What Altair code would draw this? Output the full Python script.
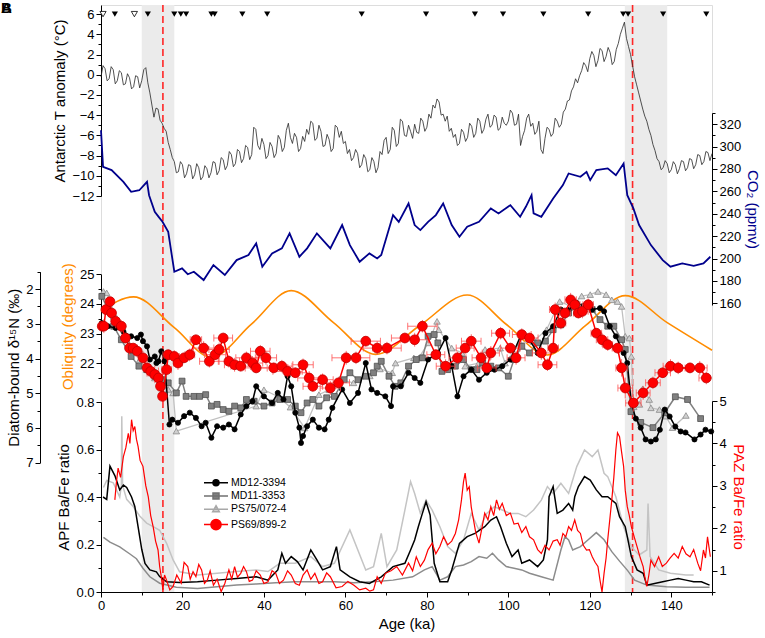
import altair as alt
import pandas as pd

FONT = "Liberation Sans"

# ---------------- data ----------------
# Antarctic temperature anomaly (deg C), 0.5-ka resolution, 0..150 ka
T_AGE = [i * 0.5 for i in range(301)]
T_VAL = [-0.2, 0.9, 0.6, -0.6, -0.4, 0.8, 0.5, -0.9, -0.6, 0.4,
         0.2, -1.0, -0.9, 0.1, -0.3, -1.4, -1.2, -0.1, -0.2, -1.3,
         -0.6, 0.5, 0.7, -0.8, -1.8, -3.0, -4.2, -3.3, -3.4, -4.5,
         -4.8, -5.3, -5.6, -6.7, -7.4, -8.2, -8.6, -9.7, -9.6, -8.6,
         -8.9, -10.2, -9.8, -8.9, -9.0, -10.3, -9.9, -8.8, -9.2, -10.4,
         -10.1, -9.0, -9.3, -10.2, -9.7, -8.6, -8.7, -9.9, -9.5, -8.2,
         -8.4, -9.4, -9.0, -7.6, -7.9, -9.1, -8.8, -7.4, -7.6, -8.7,
         -8.3, -7.0, -7.2, -8.4, -7.9, -5.2, -5.4, -7.0, -7.4, -6.3,
         -6.9, -8.3, -8.0, -6.7, -7.1, -8.2, -7.8, -6.0, -6.4, -7.6,
         -7.2, -5.5, -4.8, -6.2, -6.8, -5.8, -6.2, -7.6, -7.3, -6.1,
         -6.6, -5.4, -5.9, -4.6, -4.8, -6.5, -6.3, -5.0, -5.6, -7.1,
         -7.0, -5.9, -6.4, -7.6, -7.3, -5.0, -5.2, -6.2, -5.6, -6.8,
         -6.6, -7.8, -7.4, -8.5, -8.2, -7.4, -7.8, -9.2, -8.9, -7.9,
         -8.3, -9.6, -9.4, -8.2, -8.6, -9.7, -9.2, -7.6, -7.9, -6.5,
         -6.2, -7.8, -7.4, -5.2, -5.5, -7.1, -6.8, -4.4, -4.6, -6.0,
         -6.1, -5.0, -5.6, -6.3, -4.9, -5.7, -5.8, -4.3, -4.6, -5.6,
         -5.2, -3.9, -4.3, -3.0, -3.3, -2.4, -2.7, -4.0, -3.9, -4.6,
         -4.1, -5.6, -5.3, -6.2, -5.9, -7.0, -6.8, -5.4, -5.7, -6.6,
         -6.2, -4.8, -5.1, -6.2, -5.8, -4.3, -4.6, -5.8, -5.4, -4.4,
         -3.9, -5.2, -5.0, -4.0, -4.2, -5.5, -5.3, -4.2, -4.8, -5.0,
         -4.6, -3.5, -3.8, -5.0, -4.9, -3.9, -7.0, -6.1, -5.5, -4.3,
         -3.9, -5.1, -4.8, -5.9, -5.6, -4.6, -7.4, -7.8, -6.3, -5.2,
         -5.4, -6.1, -5.8, -4.3, -4.6, -5.2, -4.9, -3.7, -3.4, -2.6,
         -2.5, -1.6, -1.2, -0.4, -0.8, -0.1, 0.4, 1.2, 0.9, 0.3,
         1.6, 2.3, 1.9, 0.8, 1.4, 2.6, 2.4, 1.3, 1.8, 2.7,
         2.2, 1.0, 1.3, 2.5, 3.1, 4.0, 4.6, 5.2, 3.6, 2.8,
         2.0, 0.9, -0.2, -1.0, -1.8, -2.6, -3.4, -4.1, -4.6, -5.4,
         -6.0, -6.9, -7.5, -8.3, -8.6, -9.4, -9.2, -8.5, -8.8, -9.7,
         -9.4, -8.6, -8.9, -9.8, -9.3, -8.5, -8.6, -9.5, -9.2, -8.3,
         -8.4, -9.3, -8.9, -7.9, -8.0, -8.9, -8.6, -7.6, -7.7, -8.5,
         -7.8]

# CO2 (ppmv)
CO2_AGE = [0, 0.5, 2.6, 5.5, 7.4, 9.4, 11.3, 11.8, 13.2, 14.2, 15.1, 16.5, 18.0, 19.9, 21.3, 22.8,
           25.2, 27.6, 30.4, 33.3, 36.2, 38.1, 39.6, 42.0, 44.4, 46.3, 48.7, 50.6, 53.0, 56.3,
           59.2, 61.1, 63.5, 65.9, 67.8, 68.8, 71.7, 73.1, 75.5, 77.0, 78.4, 80.3, 82.2, 84.0,
           86.1, 88.0, 89.9, 92.8, 95.7, 97.6, 100.5, 102.9, 104.3, 105.7, 106.2, 108.1, 111.0,
           113.4, 114.8, 117.7, 119.2, 120.1, 121.6, 124.4, 126.4, 128.3, 129.2, 130.7, 132.1,
           135.0, 137.9, 139.8, 142.7, 145.5, 147.9, 149.6]
CO2_VAL = [314.6, 281.9, 279.0, 268.5, 259.6, 261.0, 268.5, 256.6, 241.7, 237.0, 232.8, 223.9, 188.2, 191.2, 186.0, 188.2,
           180.8, 194.2, 185.3, 198.6, 203.1, 213.5, 192.7, 204.6, 209.1, 222.5, 201.6, 209.1, 222.5, 209.1,
           229.9, 212.0, 197.1, 204.6, 200.1, 203.1, 238.8, 232.8, 249.2, 229.9, 225.4, 232.8, 238.8, 249.2,
           229.9, 219.4, 228.4, 232.8, 244.8, 240.3, 247.7, 237.3, 246.2, 256.6, 240.3, 237.3, 253.7,
           265.6, 276.0, 273.0, 277.4, 270.0, 279.0, 280.5, 274.5, 284.9, 256.6, 244.8, 229.9,
           212.0, 198.6, 192.7, 195.6, 193.5, 195.6, 201.6]

# Obliquity (degrees)
OBL_AGE = [0, 8, 18, 27.1, 37, 46.7, 57, 67.4, 78.5, 89.9, 99.7, 109.5, 119, 128.7, 139, 150]
OBL_VAL = [23.75, 24.24, 23.2, 22.2, 23.33, 24.45, 23.38, 22.3, 23.3, 24.3, 23.29, 22.28, 23.28, 24.28, 23.37, 22.44]

# Event triangles (top row)
TRI_FILLED = [3.4, 11.5, 18.0, 19.6, 20.9, 27.1, 27.9, 34.7, 40.8, 64.0, 79.8, 91.8, 98.7,
              108.6, 119.6, 128.2, 129.4, 138.0, 148.6]
TRI_OPEN = [0.5, 8.2]

# Grey bands and terminations
BAND_START = [10.0, 128.6]
BAND_END = [18.0, 139.0]
TERM_AGE = [15.2, 130.5]

# Diatom-bound d15N (permil)
CORES = ["MD12-3394", "MD11-3353", "PS75/072-4", "PS69/899-2"]

MD12_D_AGE = [0.2, 1.7, 3.6, 5.5, 7.4, 8.9, 9.8, 10.3, 11.3, 12.0, 13.2, 13.6, 14.1, 14.8, 15.6, 16.8, 17.5,
              18.9, 20.4, 21.8, 23.3, 24.7, 25.7, 27.1, 28.5, 30.0, 31.4, 32.8, 34.3, 35.7, 37.2, 38.1, 40.0,
              42.0, 43.4, 44.8, 45.8, 46.7, 47.7, 48.7, 49.1, 49.6, 50.6, 52.0, 53.5, 54.9, 55.9, 56.8, 59.2,
              61.1, 63.1, 65.0, 66.4, 67.8, 69.8, 71.2, 71.7, 73.6, 75.5, 77.0, 78.4, 80.3, 82.7, 84.6, 86.1,
              87.5, 89.0, 90.9, 92.8, 94.7, 96.6, 98.5, 100.5, 103.3, 105.2, 107.2, 109.1, 111.0, 112.9, 114.8,
              116.8, 118.7, 120.6, 122.5, 123.5, 124.9, 126.4, 128.3, 129.2, 130.2, 131.3, 132.5, 133.7, 135.0,
              136.2, 137.2, 138.4, 139.6, 141.0, 142.3, 143.5, 145.7, 147.2, 148.4, 149.8]
MD12_D_VAL = [2.98, 3.07, 3.12, 3.22, 3.36, 3.41, 3.31, 3.50, 3.65, 4.03, 3.94, 4.13, 4.08, 3.79, 4.08, 5.90, 5.76,
              5.85, 5.66, 5.56, 5.71, 5.95, 5.85, 6.28, 5.95, 5.99, 5.90, 6.04, 5.61, 5.37, 5.23, 4.80, 5.09,
              5.28, 4.99, 5.18, 4.51, 4.80, 5.56, 5.99, 6.43, 6.23, 5.95, 5.76, 5.99, 6.04, 5.76, 5.42, 4.89,
              5.28, 4.99, 4.13, 4.89, 4.99, 5.09, 5.37, 4.80, 4.80, 4.41, 4.56, 4.70, 4.03, 3.84, 3.41, 4.22,
              5.09, 4.51, 4.32, 4.61, 4.41, 4.32, 4.22, 4.03, 3.27, 3.46, 3.84, 3.27, 3.07, 2.59, 2.59,
              2.40, 2.50, 2.59, 2.55, 2.64, 3.07, 3.36, 3.84, 4.13, 5.28, 5.73, 5.99, 6.33, 6.39,
              6.33, 6.05, 5.47, 5.67, 5.96, 6.10, 6.13, 6.33, 6.19, 6.05, 6.10]

MD11_D_AGE = [0.2, 1.7, 3.1, 5.0, 7.4, 9.3, 11.3, 13.2, 15.1, 16.5, 18.5, 19.9, 20.9, 22.8, 24.2, 25.7, 27.1,
              28.5, 30.0, 31.4, 32.8, 34.3, 35.7, 37.6, 40.0, 42.0, 43.9, 45.8, 47.7, 49.1, 50.6, 52.0, 53.5,
              55.4, 57.3, 59.7, 61.1, 63.1, 65.0, 66.9, 67.8, 68.8, 70.7, 72.2, 73.6, 75.5, 77.4, 78.9, 80.3,
              81.8, 82.7, 83.7, 85.1, 87.0, 89.0, 90.9, 92.3, 93.7, 95.7, 97.6, 100.0, 101.4, 103.3, 105.2,
              107.2, 109.1, 111.0, 112.9, 114.8, 116.8, 118.7, 120.6, 122.5, 124.4, 125.9, 127.8, 128.7,
              130.1, 132.5, 135.5, 138.4, 141.0, 144.0, 147.2]
MD11_D_VAL = [2.21, 2.59, 3.07, 3.46, 3.94, 4.22, 4.32, 4.51, 4.61, 4.70, 4.99, 4.65, 5.09, 5.09, 5.09, 5.04, 5.37,
              5.32, 5.47, 5.52, 5.37, 5.42, 5.18, 5.23, 5.37, 5.28, 5.18, 5.18, 5.37, 5.56, 5.28, 5.18, 5.37,
              5.13, 5.09, 4.61, 4.41, 4.61, 4.51, 4.41, 4.22, 4.08, 4.51, 4.80, 4.70, 4.22, 4.03, 3.98, 3.36,
              3.31, 3.55, 4.37, 4.32, 4.22, 4.03, 4.32, 4.32, 4.13, 4.22, 4.27, 4.51, 4.03, 3.65, 3.84,
              3.55, 3.50, 3.17, 3.03, 2.69, 2.50, 2.50, 2.59, 2.88, 3.07, 3.07, 3.46, 3.74,
              5.53, 5.84, 5.99, 5.56, 5.10, 5.18, 5.73]

PS75_D_AGE = [0.6, 1.4, 2.2, 3.8, 6.3, 7.9, 9.5, 11.2, 13.2, 15.2, 16.5, 17.7, 18.5, 38.1, 40.0, 43.5, 46.5,
              50.0, 53.5, 56.0, 58.5, 62.0, 66.0, 68.5, 71.5, 72.3, 76.8, 78.0, 80.4, 82.5, 82.9, 86.1, 88.6,
              89.4, 92.7, 94.3, 98.0, 99.2, 102.9, 106.1, 109.4, 112.6, 115.5, 118.0, 120.1, 122.0, 124.0,
              125.4, 126.8, 127.8, 128.7, 129.7, 130.2, 130.8, 132.2, 133.0, 134.6, 135.0, 137.1, 138.6,
              140.3, 143.6]
PS75_D_VAL = [2.07, 2.11, 2.36, 2.83, 3.46, 3.74, 4.03, 4.32, 4.56, 4.80, 4.89, 4.99, 6.09, 5.37, 4.90, 5.10, 5.40,
              6.00, 5.04, 4.90, 4.60, 4.70, 4.50, 4.30, 4.41, 4.13, 3.98, 3.98, 3.55, 2.93, 3.17, 3.70, 3.84,
              4.22, 4.13, 3.74, 3.70, 4.13, 3.55, 3.51, 3.17, 2.36, 2.50, 2.20, 2.16, 2.07, 2.16,
              2.31, 2.36, 2.50, 3.36, 3.41, 3.94, 5.39, 5.32, 4.87, 5.18, 5.42, 5.47, 5.66,
              5.99, 5.64]

PS69_D_AGE = [0.3, 0.7, 1.2, 2.2, 2.6, 3.6, 5.0, 6.0, 7.0, 7.9, 8.9, 10.3, 11.3, 12.2, 13.2, 14.1, 14.6, 15.1,
              16.1, 16.5, 18.0, 18.9, 20.4, 21.8, 23.3, 25.2, 26.6, 28.0, 29.0, 30.0, 31.4, 32.8, 34.3, 35.7,
              37.2, 38.1, 39.1, 40.5, 42.4, 44.4, 45.8, 47.7, 49.6, 51.1, 52.0, 54.4, 56.3, 58.3, 60.2, 62.6,
              65.0, 67.8, 70.2, 74.6, 77.0, 78.9, 82.2, 84.6, 87.5, 89.4, 90.9, 93.3, 94.7, 95.7, 98.1, 100.5,
              101.9, 103.3, 105.2, 108.1, 109.6, 111.0, 111.5, 112.9, 113.9, 115.3, 116.3, 117.2, 118.2, 119.6,
              121.6, 123.0, 124.4, 126.8, 127.8, 128.7, 130.7, 133.1, 135.5, 137.9, 139.8, 141.7, 144.6, 147.0,
              148.6]
PS69_D_VAL = [3.07, 3.07, 2.59, 2.36, 2.69, 2.93, 3.07, 3.41, 3.70, 3.70, 3.79, 3.98, 4.27, 4.37, 4.46, 4.56, 4.80, 5.09,
              4.32, 3.89, 3.94, 4.13, 3.98, 3.89, 3.46, 3.70, 4.08, 3.89, 3.74, 3.41, 4.08, 4.18, 4.22, 3.98,
              4.13, 4.27, 3.79, 3.98, 4.27, 4.22, 4.37, 4.41, 4.18, 4.56, 4.80, 4.61, 4.85, 4.70, 3.98, 3.98,
              3.50, 3.70, 3.70, 3.41, 3.46, 3.07, 3.89, 4.22, 3.98, 3.70, 3.50, 3.98, 4.27, 3.84, 3.27, 3.70,
              3.98, 3.31, 3.41, 3.84, 4.18, 3.70, 2.59, 2.98, 2.69, 2.31, 2.45, 2.69, 2.64, 2.45,
              3.27, 3.46, 3.60, 3.70, 4.27, 4.85, 5.28, 4.99, 4.70, 4.41, 4.22, 4.27, 4.27, 4.27,
              4.56]
PS69_D_XERR = [0.8, 0.9, 0.8, 0.7, 0.8, 0.9, 0.8, 0.9, 0.8, 1.0, 0.9, 0.8, 0.9, 0.8, 1.0, 0.9, 0.8, 0.9,
               1.2, 1.3, 1.2, 1.1, 1.3, 1.2, 1.4, 2.5, 2.4, 2.6, 2.5, 2.3, 2.6, 2.5, 2.4, 2.6,
               2.5, 2.7, 2.4, 2.6, 3.5, 2.5, 3.6, 2.6, 2.5, 2.8, 2.4, 2.6, 2.5, 2.7, 3.5, 3.4,
               3.6, 3.4, 3.5, 3.3, 3.4, 3.6, 2.2, 2.3, 2.1, 2.2, 2.4, 2.2, 2.3, 2.1, 2.2, 2.4,
               2.2, 2.3, 2.1, 2.2, 2.3, 1.3, 1.4, 1.2, 1.3, 1.4, 1.3, 1.2, 1.4, 1.3,
               1.3, 1.4, 1.2, 1.3, 1.4, 1.8, 1.9, 1.7, 1.8, 1.9, 1.8, 1.7, 1.9, 1.8,
               1.8]
PS69_D_YERR = [0.15, 0.2, 0.15, 0.12, 0.15, 0.2, 0.18, 0.15, 0.2, 0.15, 0.18, 0.2, 0.25, 0.2, 0.25, 0.3, 0.25, 0.3,
               0.2, 0.15, 0.18, 0.2, 0.15, 0.18, 0.15, 0.2, 0.18, 0.15, 0.2, 0.15, 0.18, 0.2, 0.15, 0.18,
               0.2, 0.15, 0.18, 0.2, 0.15, 0.18, 0.2, 0.15, 0.18, 0.2, 0.15, 0.18, 0.2, 0.15, 0.2, 0.18,
               0.15, 0.2, 0.18, 0.15, 0.2, 0.18, 0.15, 0.2, 0.18, 0.15, 0.2, 0.18, 0.15, 0.2, 0.18, 0.15,
               0.2, 0.18, 0.15, 0.2, 0.18, 0.15, 0.2, 0.18, 0.15, 0.2, 0.18, 0.15, 0.2, 0.18,
               0.15, 0.2, 0.18, 0.15, 0.25, 0.3, 0.25, 0.2, 0.18, 0.15, 0.2, 0.18, 0.15, 0.2,
               0.18]

# APF Ba/Fe ratio
MD12_B_AGE = [0.5, 1.4, 2.2, 3.4, 4.6, 5.5, 6.3, 7.5, 8.3, 9.1, 10.0, 10.8, 12.0, 13.6, 14.4, 16.1, 19.3, 23.7,
              28.5, 33.3, 38.1, 41.0, 43.4, 44.4, 45.3, 46.7, 48.2, 49.6, 51.5, 53.0, 54.4, 56.3, 57.8, 58.7,
              61.1, 63.5, 65.9, 68.8, 71.7, 74.6, 76.0, 77.0, 77.9, 78.9, 79.8, 80.8, 81.8, 83.2, 85.1, 86.1,
              88.0, 89.9, 91.8, 94.2, 95.7, 97.1, 98.1, 99.5, 100.9, 102.4, 103.3, 105.2, 107.2, 108.6, 109.6,
              110.0, 111.0, 112.0, 113.4, 114.8, 115.8, 116.3, 117.2, 118.7, 120.1, 121.6, 123.0, 124.4,
              126.4, 127.3, 128.7, 130.2, 131.6, 133.1, 134.0, 135.9, 137.9, 139.8, 141.7, 143.6, 145.5,
              147.4, 149.4]
MD12_B_VAL = [0.40, 0.39, 0.53, 0.49, 0.43, 0.45, 0.44, 0.40, 0.36, 0.275, 0.18, 0.12, 0.093, 0.085, 0.065, 0.043,
              0.04, 0.043, 0.05, 0.057, 0.064, 0.05, 0.093, 0.163, 0.121, 0.149, 0.128, 0.093, 0.177, 0.135,
              0.093, 0.107, 0.191, 0.093, 0.064, 0.043, 0.036, 0.064, 0.107, 0.121, 0.177, 0.219, 0.275, 0.331,
              0.38, 0.324, 0.121, 0.043, 0.043, 0.093, 0.205, 0.233, 0.247, 0.275, 0.303, 0.317, 0.275, 0.205,
              0.149, 0.177, 0.121, 0.135, 0.107, 0.135, 0.219, 0.401, 0.444, 0.331, 0.345, 0.373, 0.345, 0.401,
              0.444, 0.486, 0.471, 0.43, 0.401, 0.401, 0.373, 0.317, 0.275, 0.149, 0.093, 0.079, 0.029, 0.036,
              0.043, 0.05, 0.057, 0.05, 0.043, 0.043, 0.029]

MD11_B_AGE = [0.6, 2.2, 4.6, 7.1, 8.7, 10.3, 12.0, 14.4, 18.5, 23.7, 28.5, 33.3, 38.1, 42.9, 47.7, 52.5, 57.3,
              62.1, 66.9, 71.7, 76.5, 79.4, 81.3, 83.2, 85.1, 87.0, 89.0, 90.9, 92.8, 94.7, 96.1, 97.6, 99.5,
              101.4, 103.3, 105.2, 108.1, 111.0, 112.9, 113.9, 114.8, 115.8, 117.7, 119.6, 121.6, 123.5,
              125.4, 127.3, 129.3, 131.0, 134.0, 138.8, 143.6, 149.4]
MD11_B_VAL = [0.23, 0.21, 0.19, 0.16, 0.14, 0.10, 0.064, 0.037, 0.02, 0.015, 0.022, 0.029, 0.034, 0.039, 0.043,
              0.043, 0.043, 0.039, 0.043, 0.05, 0.064, 0.093, 0.107, 0.05, 0.064, 0.107, 0.114, 0.128, 0.149,
              0.142, 0.163, 0.135, 0.107, 0.10, 0.093, 0.079, 0.064, 0.05, 0.177, 0.233, 0.219, 0.177, 0.191,
              0.22, 0.25, 0.22, 0.17, 0.13, 0.09, 0.05, 0.029, 0.022, 0.02, 0.02]

PS75_B_AGE = [0.6, 1.4, 3.0, 4.6, 5.0, 5.1, 5.3, 6.3, 7.9, 9.5, 11.2, 12.8, 14.4, 16.1, 17.7, 19.3, 23.7, 28.5,
              33.3, 38.1, 41.0, 43.9, 47.7, 51.5, 54.4, 57.3, 61.1, 65.0, 66.9, 68.8, 70.2, 72.6, 74.6, 76.0,
              77.0, 78.4, 79.8, 81.3, 83.2, 85.1, 87.0, 89.0, 90.9, 92.8, 94.7, 96.6, 98.5, 100.5, 102.4, 104.3,
              106.2, 108.1, 109.6, 111.0, 112.9, 114.8, 116.8, 118.7, 120.6, 122.0, 123.5, 124.4, 126.4, 128.3,
              130.2, 132.1, 134.0, 134.3, 134.8, 136.9, 139.8, 143.6, 145.5]
PS75_B_VAL = [0.44, 0.47, 0.46, 0.40, 0.45, 0.74, 0.45, 0.39, 0.36, 0.32, 0.29, 0.275, 0.26, 0.205, 0.135, 0.085,
              0.072, 0.079, 0.086, 0.093, 0.086, 0.121, 0.121, 0.149, 0.107, 0.121, 0.261, 0.093, 0.107, 0.247,
              0.107, 0.177, 0.345, 0.465, 0.415, 0.331, 0.387, 0.345, 0.275, 0.191, 0.163, 0.219, 0.331, 0.261,
              0.331, 0.359, 0.345, 0.331, 0.331, 0.317, 0.345, 0.387, 0.444, 0.415, 0.458, 0.415, 0.528, 0.598,
              0.57, 0.598, 0.50, 0.486, 0.401, 0.275, 0.191, 0.156, 0.177, 0.373, 0.149, 0.093, 0.079, 0.072,
              0.072]

# PAZ Ba/Fe ratio (PS69/899-2)
PAZ_AGE = [3.4, 3.8, 4.2, 4.8, 5.5, 6.1, 6.7, 7.1, 7.5, 7.9, 8.3, 8.7, 9.1, 9.6, 10.3, 11.0, 11.6, 12.2,
           12.8, 13.4, 14.0, 14.4, 14.8, 15.2, 15.6, 16.1, 16.9, 17.7, 18.6, 19.7, 20.4, 21.3, 21.9, 22.6,
           23.3, 24.0, 24.7, 25.4, 26.1, 26.8, 27.6, 28.5, 29.5, 30.4, 31.4, 32.1, 32.8, 33.5, 34.3, 35.0,
           35.7, 36.4, 37.2, 38.1, 39.1, 40.0, 41.0, 42.0, 42.9, 43.8, 44.8, 45.8, 46.7, 47.7, 48.7, 49.6,
           50.6, 51.5, 52.5, 53.5, 54.4, 55.4, 56.3, 57.7, 59.2, 60.6, 62.1, 63.5, 65.0, 66.0, 66.9, 67.8,
           68.8, 69.8, 71.2, 72.6, 74.0, 75.5, 76.5, 77.4, 78.4, 79.4, 80.3, 81.3, 82.2, 83.2, 84.1, 85.1,
           86.1, 87.0, 87.8, 88.5, 89.0, 89.4, 89.9, 90.4, 90.9, 91.3, 92.0, 92.8, 93.5, 94.2, 95.0, 95.7,
           96.4, 97.1, 97.8, 98.5, 99.5, 100.5, 101.4, 102.4, 103.3, 104.3, 105.2, 106.2, 107.2, 108.1,
           109.0, 110.0, 111.0, 112.0, 112.7, 113.4, 114.1, 114.8, 115.5, 116.3, 117.0, 117.7, 118.4, 119.2,
           119.9, 120.6, 121.3, 122.0, 122.5, 123.0, 123.5, 124.0, 124.4, 124.9, 125.4, 125.9, 126.4, 126.8,
           127.3, 127.8, 128.3, 128.7, 129.2, 129.7, 130.2, 130.9, 131.6, 132.4, 133.1, 133.6, 134.0, 134.5,
           135.0, 135.9, 136.9, 137.8, 138.8, 139.7, 140.7, 141.7, 142.7, 143.6, 144.6, 145.5, 146.5, 147.2,
           147.9, 148.4, 148.9, 149.6]
PAZ_VAL = [2.67, 3.1, 3.42, 3.2, 3.69, 3.9, 4.24, 4.0, 4.56, 4.3, 4.40, 4.1, 3.93, 3.6, 3.46, 3.0, 2.75, 2.3,
           2.04, 1.7, 1.49, 1.1, 0.86, 0.55, 0.9, 0.78, 0.55, 0.63, 0.9, 0.71, 1.2, 1.10, 0.8, 0.98,
           0.86, 1.15, 1.02, 0.7, 0.78, 1.0, 0.66, 0.8, 0.51, 0.7, 1.02, 0.8, 1.10, 0.85, 0.94, 1.1,
           0.98, 0.75, 0.78, 1.0, 0.90, 0.7, 0.74, 1.0, 0.94, 0.7, 0.78, 1.0, 0.90, 0.7, 0.66, 0.9,
           1.02, 0.8, 0.94, 0.7, 0.74, 0.95, 0.86, 0.6, 0.63, 0.75, 0.66, 0.55, 0.59, 0.52, 0.55, 0.86,
           0.7, 0.94, 1.0, 1.10, 0.9, 1.18, 1.0, 1.33, 1.1, 1.25, 1.5, 1.65, 1.4, 1.57, 1.8, 1.61,
           1.7, 1.88, 2.2, 2.67, 3.1, 3.30, 2.9, 2.98, 2.5, 2.28, 1.9, 1.65, 2.0, 2.36, 2.2, 2.51,
           2.3, 2.67, 2.45, 2.59, 2.3, 2.36, 2.1, 2.12, 1.9, 2.04, 1.8, 1.73, 1.5, 1.41,
           1.6, 1.49, 1.7, 1.73, 1.6, 1.88, 1.8, 2.04, 1.95, 2.20, 1.95, 1.88, 1.6, 1.49,
           1.5, 1.33, 1.2, 1.10, 0.78, 0.50, 0.94, 1.3, 1.73, 2.2, 2.67, 3.2, 3.85, 4.25,
           4.16, 3.8, 3.46, 2.9, 2.51, 2.3, 2.04, 1.8, 1.57, 1.3, 1.10, 0.8, 0.63, 0.9,
           1.25, 1.1, 1.33, 1.1, 1.18, 1.3, 1.41, 1.3, 1.57, 1.4, 1.33, 1.5, 1.18, 1.0,
           1.49, 1.3, 1.80, 1.33]

# Axis tick values
X_TICKS = [0, 10, 20, 30, 40, 50, 60, 70, 80, 90, 100, 110, 120, 130, 140, 150]
T_TICKS = [-12, -11, -10, -9, -8, -7, -6, -5, -4, -3, -2, -1, 0, 1, 2, 3, 4, 5, 6]
CO2_TICKS = [160, 170, 180, 190, 200, 210, 220, 230, 240, 250, 260, 270, 280, 290, 300, 310, 320, 330]
OBL_TICKS = [21.5, 22, 22.5, 23, 23.5, 24, 24.5, 25]
D15_TICKS = [1.5, 2, 2.5, 3, 3.5, 4, 4.5, 5, 5.5, 6, 6.5, 7]
APF_TICKS = [0, 0.1, 0.2, 0.3, 0.4, 0.5, 0.6, 0.7, 0.8]
PAZ_TICKS = [0.5, 1, 1.5, 2, 2.5, 3, 3.5, 4, 4.5, 5]

# ---------------- styling helpers ----------------
def make_axis(values, test, fmt, title, orient, title_color="black", offset=0, title_pad=4):
    return alt.Axis(
        values=values,
        labelExpr=f"({test}) ? format(datum.value, '{fmt}') : ''",
        tickSize={"condition": {"test": test, "value": 5}, "value": 3},
        title=title, orient=orient, titleColor=title_color, offset=offset,
        titlePadding=title_pad,
        labelFontSize=13, titleFontSize=15, titleFontWeight="normal",
        labelFont=FONT, titleFont=FONT,
        domainColor="black", tickColor="black", labelColor="black",
        grid=False, labelOverlap=False, labelFlush=False,
    )


def X(field="age"):
    # every layer carries the same x scale and the same x axis, so they merge into one
    return alt.X(f"{field}:Q", scale=alt.Scale(domain=[0, 150], nice=False, zero=False),
                 axis=make_axis(X_TICKS, "datum.value % 20 == 0", "d", "Age (ka)", "bottom"))


layers = []

# ---------------- background ----------------
layers.append(alt.Chart(pd.DataFrame({"age": BAND_START, "end": BAND_END})).mark_rect(
    color="#ebebeb").encode(x=X(), x2="end:Q"))
layers.append(alt.Chart(pd.DataFrame({"age": TERM_AGE})).mark_rule(
    color="#ff2626", strokeDash=[7, 4], strokeWidth=1.6).encode(x=X()))
layers.append(alt.Chart(pd.DataFrame({"t": ["A", "B"]})).mark_text(
    font=FONT, fontSize=15, fontWeight="bold", align="left", baseline="top", color="black"
).encode(x=alt.value(-100), y=alt.value(-4), text="t:N"))

# ---------------- temperature ----------------
def T_SCALE():
    return alt.Scale(domain=[-12, 6.9], range=[191, 0], nice=False, zero=False)


layers.append(alt.Chart(pd.DataFrame({"age": T_AGE, "v": T_VAL})).mark_line(
    color="#262626", strokeWidth=0.8).encode(
    x=X(), y=alt.Y("v:Q", scale=T_SCALE(),
                   axis=make_axis(T_TICKS, "datum.value % 2 == 0", "d",
                                  "Antarctic T anomaly (°C)", "left"))))
layers.append(alt.Chart(pd.DataFrame({"age": TRI_FILLED, "v": [6] * len(TRI_FILLED)})).mark_point(
    shape="triangle-down", filled=True, color="black", size=38, opacity=1).encode(
    x=X(), y=alt.Y("v:Q", scale=T_SCALE(), axis=None)))
layers.append(alt.Chart(pd.DataFrame({"age": TRI_OPEN, "v": [6] * len(TRI_OPEN)})).mark_point(
    shape="triangle-down", filled=True, fill="white", stroke="black", strokeWidth=0.8, size=38,
    opacity=1).encode(x=X(), y=alt.Y("v:Q", scale=T_SCALE(), axis=None)))

# ---------------- CO2 ----------------
layers.append(alt.Chart(pd.DataFrame({"age": CO2_AGE, "v": CO2_VAL})).mark_line(
    color="#00008c", strokeWidth=1.8).encode(
    x=X(), y=alt.Y("v:Q", scale=alt.Scale(domain=[158.5, 330], range=[300, 108], nice=False, zero=False),
                   axis=make_axis(CO2_TICKS, "datum.value % 20 == 0", "d",
                                  "CO₂ (ppmv)", "right", "#00008c"))))

# ---------------- obliquity ----------------
layers.append(alt.Chart(pd.DataFrame({"age": OBL_AGE, "v": OBL_VAL})).mark_line(
    color="#ff8c00", strokeWidth=1.6, interpolate="monotone").encode(
    x=X(), y=alt.Y("v:Q", scale=alt.Scale(domain=[21.5, 25], range=[373.1, 269.3], nice=False, zero=False),
                   axis=make_axis(OBL_TICKS, "datum.value % 1 == 0", "d",
                                  "Obliquity (degrees)", "left", "#ff8c00"))))

# ---------------- d15N ----------------
def D_SCALE():
    return alt.Scale(domain=[1.5, 7], range=[266.7, 457.7], nice=False, zero=False)


d_axis = make_axis(D15_TICKS, "datum.value % 1 == 0", "d", "Diatom-bound δ¹⁵N (‰)", "left",
                   offset=61)


def d_line(ages, vals, color, width, axis=None):
    return alt.Chart(pd.DataFrame({"age": ages, "v": vals})).mark_line(
        color=color, strokeWidth=width).encode(
        x=X(), y=alt.Y("v:Q", scale=D_SCALE(), axis=axis))


def d_pts(ages, vals, shape, fill, stroke, size, sw=0.8):
    return alt.Chart(pd.DataFrame({"age": ages, "v": vals})).mark_point(
        shape=shape, filled=True, fill=fill, stroke=stroke, strokeWidth=sw, size=size, opacity=1).encode(
        x=X(), y=alt.Y("v:Q", scale=D_SCALE(), axis=None))


ps69_df = pd.DataFrame({"a0": PS69_D_AGE, "v": PS69_D_VAL, "xe": PS69_D_XERR, "ye": PS69_D_YERR})
err_h = alt.Chart(ps69_df).transform_calculate(
    age="datum.a0 - datum.xe", hi="datum.a0 + datum.xe").mark_rule(
    color="#ff5050", strokeWidth=1, opacity=0.8, clip=True).encode(
    x=X(), x2="hi:Q", y=alt.Y("v:Q", scale=D_SCALE(), axis=None))
err_v = alt.Chart(ps69_df).transform_calculate(
    age="datum.a0", lo="datum.v - datum.ye", hi="datum.v + datum.ye").mark_rule(
    color="#ff5050", strokeWidth=1, opacity=0.8).encode(
    x=X(), y=alt.Y("lo:Q", scale=D_SCALE(), axis=None), y2="hi:Q")
cap_l = alt.Chart(ps69_df).transform_calculate(age="datum.a0 - datum.xe").mark_tick(
    orient="vertical", color="#ff5050", thickness=1, size=7, opacity=0.8, clip=True).encode(
    x=X(), y=alt.Y("v:Q", scale=D_SCALE(), axis=None))
cap_r = alt.Chart(ps69_df).transform_calculate(age="datum.a0 + datum.xe").mark_tick(
    orient="vertical", color="#ff5050", thickness=1, size=7, opacity=0.8, clip=True).encode(
    x=X(), y=alt.Y("v:Q", scale=D_SCALE(), axis=None))

LEG_FILL = ["#000000", "#808080", "#d0d0d0", "#ff0000"]
LEG_STROKE = ["#000000", "#707070", "#a8a8a8", "#ff0000"]
LEG_SHAPES = [
    "M-2,0H2M0.5,0A0.5,0.5,0,1,1,-0.5,0A0.5,0.5,0,1,1,0.5,0Z",
    "M-2,0H2M-0.5,-0.5H0.5V0.5H-0.5Z",
    "M-2,0H2M0,-0.6L0.55,0.4H-0.55Z",
    "M-2,0H2M0.85,0A0.85,0.85,0,1,1,-0.85,0A0.85,0.85,0,1,1,0.85,0Z",
]
leg = alt.Legend(orient="none", legendX=108, legendY=470.7, title=None, labelFontSize=10.5,
                 labelFont=FONT, labelColor="black", symbolSize=144, symbolStrokeWidth=1.5,
                 symbolOpacity=1, rowPadding=0.3, labelOffset=8, padding=0, labelLimit=200)
leg_layer = alt.Chart(pd.DataFrame({"core": CORES, "age": [1, 1, 1, 1], "v": [3, 3, 3, 3]})).mark_point(
    filled=True, opacity=0).encode(
    x=X(), y=alt.Y("v:Q", scale=D_SCALE(), axis=None),
    fill=alt.Fill("core:N", scale=alt.Scale(domain=CORES, range=LEG_FILL), legend=leg),
    stroke=alt.Stroke("core:N", scale=alt.Scale(domain=CORES, range=LEG_STROKE), legend=leg),
    shape=alt.Shape("core:N", scale=alt.Scale(domain=CORES, range=LEG_SHAPES), legend=leg))

layers += [
    d_line(PS75_D_AGE, PS75_D_VAL, "#c0c0c0", 1.3, d_axis),
    d_pts(PS75_D_AGE, PS75_D_VAL, "triangle-up", "#d0d0d0", "#8a8a8a", 42),
    d_line(MD11_D_AGE, MD11_D_VAL, "#808080", 1.5),
    d_pts(MD11_D_AGE, MD11_D_VAL, "square", "#808080", "#505050", 34),
    d_line(MD12_D_AGE, MD12_D_VAL, "#000000", 1.5),
    d_pts(MD12_D_AGE, MD12_D_VAL, "circle", "#000000", "#000000", 26),
    err_h, err_v, cap_l, cap_r,
    d_line(PS69_D_AGE, PS69_D_VAL, "#ff0000", 1.5),
    d_pts(PS69_D_AGE, PS69_D_VAL, "circle", "#ff0000", "#c00000", 95),
    leg_layer,
]

# ---------------- APF Ba/Fe ----------------
def APF_SCALE():
    return alt.Scale(domain=[0, 0.8], range=[587, 397], nice=False, zero=False, clamp=True)


apf_axis = make_axis(APF_TICKS, "round(datum.value * 10) % 2 == 0", ".1f", "APF Ba/Fe ratio", "left")


def apf_line(ages, vals, color, axis=None):
    return alt.Chart(pd.DataFrame({"age": ages, "v": vals})).mark_line(
        color=color, strokeWidth=1.5).encode(
        x=X(), y=alt.Y("v:Q", scale=APF_SCALE(), axis=axis))


layers += [
    apf_line(MD11_B_AGE, MD11_B_VAL, "#8c8c8c", apf_axis),
    apf_line(PS75_B_AGE, PS75_B_VAL, "#c4c4c4"),
    apf_line(MD12_B_AGE, MD12_B_VAL, "#000000"),
]

# ---------------- PAZ Ba/Fe ----------------
layers.append(alt.Chart(pd.DataFrame({"age": PAZ_AGE, "v": PAZ_VAL})).mark_line(
    color="#ff0000", strokeWidth=1.2).encode(
    x=X(), y=alt.Y("v:Q", scale=alt.Scale(domain=[0.5, 5], range=[587, 396], nice=False, zero=False,
                                         clamp=True),
                   axis=make_axis(PAZ_TICKS, "datum.value % 1 == 0", "d", "PAZ Ba/Fe ratio", "right",
                                  "#ff0000"))))

chart = alt.layer(*layers).resolve_scale(
    y="independent"
).properties(
    width=611, height=587,
    padding={"left": 101, "top": 5, "right": 53, "bottom": 46},
    autosize=alt.AutoSizeParams(type="none"),
    background="white",
).configure_view(strokeWidth=0).configure(font=FONT)

chart.save("out.html", embed_options={"renderer": "svg", "actions": False})
